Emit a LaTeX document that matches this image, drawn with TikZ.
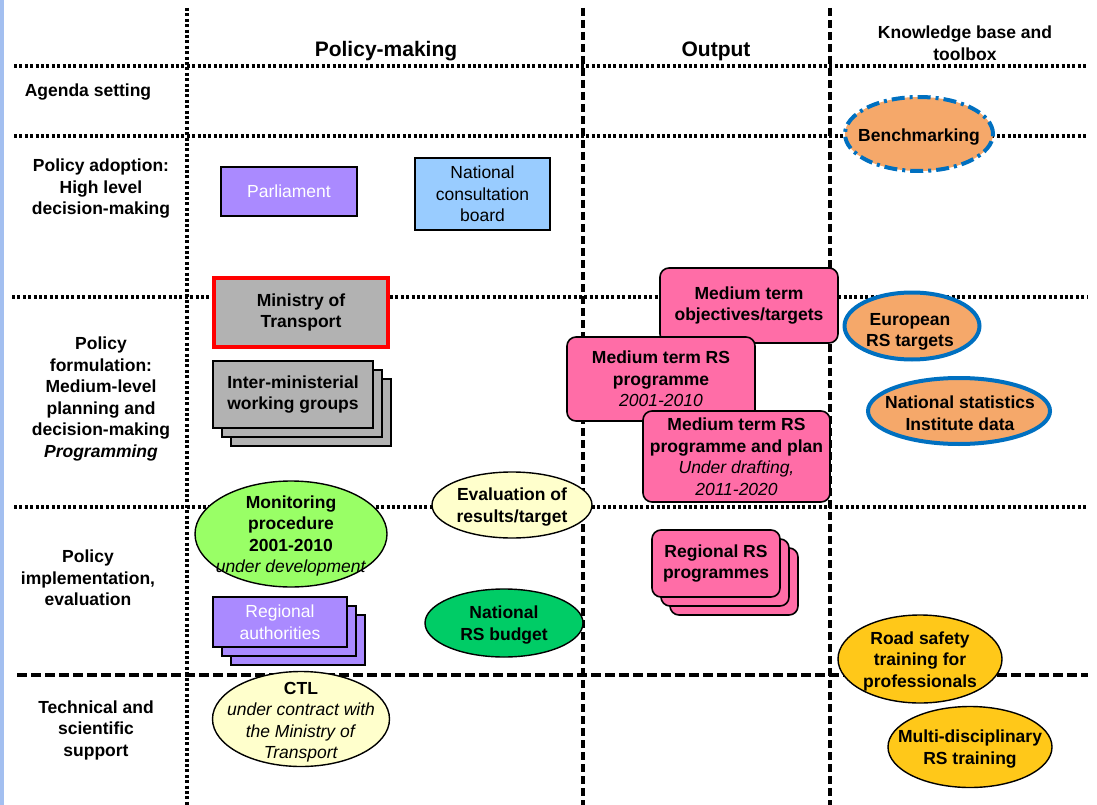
\documentclass[tikz,border=0pt]{standalone}
\usepackage{fontspec}
\setmainfont{Liberation Sans}
\usetikzlibrary{shapes.geometric,shadows}
\definecolor{stripblue}{HTML}{A3BFF0}
\definecolor{parl}{HTML}{AA8AFF}
\definecolor{lblue}{HTML}{99CCFF}
\definecolor{mgray}{HTML}{B2B2B2}
\definecolor{pinkbox}{HTML}{FF6DA7}
\definecolor{orangeell}{HTML}{F5A86A}
\definecolor{blueedge}{HTML}{0070C0}
\definecolor{lyellow}{HTML}{FFFFCC}
\definecolor{lgreen}{HTML}{99FF66}
\definecolor{dgreen}{HTML}{00CC66}
\definecolor{gold}{HTML}{FFC819}
\begin{document}
\begin{tikzpicture}[x=1pt,y=-1pt,
  txt/.style={font=\fontsize{17.5}{21.5}\selectfont\bfseries, align=center, inner sep=0pt},
  plain/.style={font=\fontsize{17.5}{21.5}\selectfont, align=center, inner sep=0pt},
  head/.style={font=\fontsize{21}{24}\selectfont\bfseries, align=center, inner sep=0pt, yshift=-2pt},
  free/.style={txt, yshift=-2pt},
  dotline/.style={line width=3.2pt, dash pattern=on 3pt off 2.4pt},
  dashline/.style={line width=3.2pt, dash pattern=on 8pt off 4pt},
  longdash/.style={line width=3.2pt, dash pattern=on 10pt off 4pt},
  rbox/.style={draw=black, line width=1.6pt, rectangle},
  pbox/.style={draw=black, line width=1.6pt, rectangle, rounded corners=9pt, fill=pinkbox},
  ell/.style={draw=black, line width=1.4pt, ellipse, inner sep=0pt},
  blueell/.style={draw=blueedge, line width=4pt, ellipse, inner sep=0pt, fill=orangeell},
  stack/.style={double copy shadow={shadow xshift=9pt, shadow yshift=-9pt}}
]
\useasboundingbox (0,0) rectangle (1097,805);
\fill[stripblue] (0,0) rectangle (3.5,805);

% grid lines
\coordinate (v1t) at (187,8);   \coordinate (v1b) at (187,805);
\coordinate (v2t) at (583,8);   \coordinate (v2b) at (583,805);
\coordinate (v3t) at (830,8);   \coordinate (v3b) at (830,805);
\coordinate (h1l) at (14,66);   \coordinate (h1r) at (1086,66);
\coordinate (h2l) at (14,136);  \coordinate (h2r) at (1087,136);
\coordinate (h3l) at (12,297);  \coordinate (h3r) at (1087,297);
\coordinate (h4l) at (14,507);  \coordinate (h4r) at (1087,507);
\coordinate (h5l) at (17,675);  \coordinate (h5r) at (1088,675);
\draw[dotline] (v1t) -- (v1b);
\draw[dashline] (v2t) -- (v2b);
\draw[dashline] (v3t) -- (v3b);
\draw[dotline] (h1l) -- (h1r);
\draw[dotline] (h2l) -- (h2r);
\draw[dotline] (h3l) -- (h3r);
\draw[dotline] (h4l) -- (h4r);
\draw[longdash] (h5l) -- (h5r);

% headers
\node[head] (hpm) at (386,49) {Policy-making};
\node[head] (hout) at (716,49) {Output};
\node[free] (hkb) at (965,41) {Knowledge base and\\toolbox};

% row labels
\node[free] (ragenda) at (88,90) {Agenda setting};
\node[free] (radopt) at (101,187) {Policy adoption:\\High level\\decision-making};
\node[free] (rform) at (101,397) {Policy\\formulation:\\Medium-level\\planning and\\decision-making\\\textit{Programming}};
\node[free] (rimpl) at (88,576) {Policy\\implementation,\\evaluation};
\node[free] (rtech) at (96,728) {Technical and\\scientific\\support};

% policy-making column
\node[rbox, fill=parl, text=white, plain, minimum width=136pt, minimum height=49pt] (parl) at (289,191.5) {Parliament};
\node[rbox, fill=lblue, plain, minimum width=135pt, minimum height=72pt] (ncb) at (482.5,194) {National\\consultation\\board};
\node[rectangle, draw=red, line width=4pt, fill=mgray, txt, minimum width=174pt, minimum height=69pt] (mot) at (301,312.5) {Ministry of\\Transport};
\node[rbox, stack, fill=mgray, txt, minimum width=160pt, minimum height=67pt] (imwg) at (293,394.5) {Inter-ministerial\\working groups};

\node[ell, fill=lgreen, minimum width=192pt, minimum height=106pt] (mon) at (291,534) {};
\node[free] (monT) at (mon) {Monitoring\\procedure\\2001-2010\\\textmd{\textit{under development}}};
\node[ell, fill=lyellow, minimum width=160pt, minimum height=66pt] (eval) at (512,505) {};
\node[free] (evalT) at (eval) {Evaluation of\\results/target};
\node[rbox, stack, fill=parl, text=white, plain, minimum width=134pt, minimum height=50pt] (regauth) at (280,622) {Regional\\authorities};
\node[ell, fill=dgreen, minimum width=158pt, minimum height=68pt] (nrsb) at (504,623) {};
\node[free] (nrsbT) at (nrsb) {National\\RS budget};
\node[ell, fill=lyellow, minimum width=177pt, minimum height=95pt] (ctl) at (301,719) {};
\node[free] (ctlT) at (301,720) {CTL\\\textmd{\textit{under contract with}}\\\textmd{\textit{the Ministry of}}\\\textmd{\textit{Transport}}};

% output column
\node[pbox, txt, minimum width=178pt, minimum height=75pt] (mtobj) at (749,305.5) {Medium term\\objectives/targets};
\node[pbox, txt, minimum width=188pt, minimum height=84pt] (mtprog) at (661,379) {Medium term RS\\programme\\\textmd{\textit{2001-2010}}};
\node[pbox, txt, minimum width=187pt, minimum height=91pt] (mtplan) at (736.5,456.5) {Medium term RS\\programme and plan\\\textmd{\textit{Under drafting,}}\\\textmd{\textit{2011-2020}}};
\node[pbox, stack, txt, minimum width=128pt, minimum height=67pt] (regrs) at (716,563.5) {Regional RS\\programmes};

% knowledge base column
\node[ell, fill=orangeell, draw=blueedge, line width=4pt, dash pattern=on 13pt off 5pt on 3pt off 5pt, minimum width=148pt, minimum height=74pt] (bench) at (919,134) {};
\node[free] (benchT) at (919,135) {Benchmarking};
\node[blueell, minimum width=135pt, minimum height=67pt] (eurt) at (912,326) {};
\node[free] (eurtT) at (910,330) {European\\RS targets};
\node[blueell, minimum width=182pt, minimum height=66pt] (nsid) at (959,411) {};
\node[free] (nsidT) at (960,411) {National statistics\\Institute data};
\node[ell, fill=gold, minimum width=164pt, minimum height=88pt] (rstp) at (920,659) {};
\node[free] (rstpT) at (rstp) {Road safety\\training for\\professionals};
\node[ell, fill=gold, minimum width=164pt, minimum height=81pt] (mdrs) at (970,747) {};
\node[free] (mdrsT) at (mdrs) {Multi-disciplinary\\RS training};
\end{tikzpicture}
\end{document}
